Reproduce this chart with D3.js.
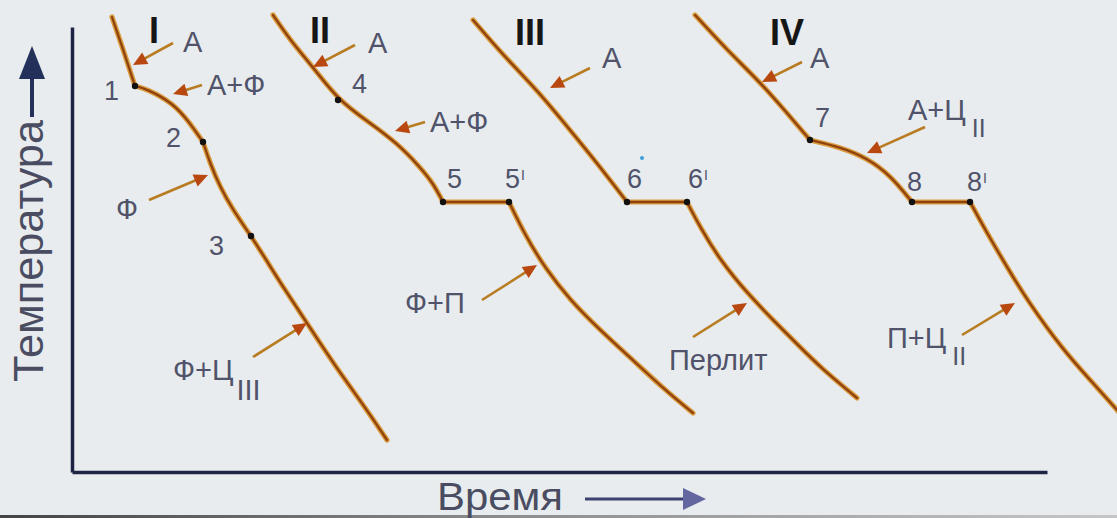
<!DOCTYPE html>
<html>
<head>
<meta charset="utf-8">
<script src="https://d3js.org/d3.v7.min.js"></script>
<style>
  body { margin: 0; background: #e8ecee; }
  svg { display: block; }
</style>
</head>
<body>
<script>
// cooling curves, time vs temperature (arbitrary units)
var curveI = [
   [[40,455],[52,420],[63,386]],
   [[63,386],[75,383],[101,369],[118,349],[131,330]],
   [[131,330],[138,309],[148,285],[161,262],[179,236],[193,214],[213,182],[235,149],[261,109],[295,62],[315,32]]
];
var curveII = [
   [[201,457],[218,432],[241,405],[266,372],[298,349],[325,329],[348,305],[361,289],[371,270]],
   [[371,270],[437,270]],
   [[437,270],[453,237],[473,204],[498,172],[528,142],[563,110],[593,82],[621,59]]
];
var curveIII = [
   [[401,452],[431,417],[465,382],[498,342],[525,309],[555,270]],
   [[555,270],[615,270]],
   [[615,270],[628,245],[648,212],[675,179],[703,150],[728,125],[748,105],[785,74]]
];
var curveIV = [
   [[623,457],[655,422],[688,390],[715,359],[738,332]],
   [[738,332],[768,325],[795,314],[818,297],[840,270]],
   [[840,270],[898,270]],
   [[898,270],[915,239],[935,205],[955,172],[991,122],[1021,89],[1045,62],[1068,36]]
];

// critical points
var points = [[63,386],[131,330],[179,236],[266,372],[371,270],[437,270],[555,270],[615,270],[738,332],[840,270],[898,270]];
var pointLabels = ['1','2','3','4','5',"5'",'6',"6'",'7','8',"8'"];
var pointLabelPos = [[32,372],[94,325],[137,217],[280,379],[375,284],[433,284],[555,284],[616,284],[743,345],[835,281],[895,281]];

// curve numbers
var romans = ['I','II','III','IV'];
var romanPos = [[77,429],[238,429],[443,427],[698,427]];

// phase labels + arrows
var phaseText = ['А','А+Ф','Ф','Ф+Ц','А','А+Ф','Ф+П','А','Перлит','А','А+Ц','П+Ц'];
var phaseSub = ['','','','III','','','','','','','II','II'];
var phasePos = [[111,420],[135,377],[44,253],[101,92],[296,419],[358,340],[333,159],[530,404],[597,102],[738,404],[836,352],[815,124]];
var arrowFrom = [[101,429],[130,387],[77,272],[181,115],[283,427],[353,350],[410,172],[518,404],[621,135],[730,410],[853,345],[890,137]];
var arrowTo = [[61,407],[101,378],[136,297],[235,149],[241,405],[323,341],[465,207],[478,384],[675,169],[690,390],[795,319],[943,169]];

var width = 1117, height = 518;

var x = d3.scaleLinear().domain([0, 975]).range([72, 1047]);
var y = d3.scaleLinear().domain([0, 445]).range([472, 27]);

var svg = d3.select('body').append('svg')
   .attr('width', width)
   .attr('height', height);

svg.append('rect')
   .attr('width', width).attr('height', height)
   .attr('fill', '#e8ecee');

// dark edge at the very bottom
var grad = svg.append('defs').append('linearGradient').attr('id', 'edge');
grad.append('stop').attr('offset', '0%').attr('stop-color', '#444');
grad.append('stop').attr('offset', '45%').attr('stop-color', '#8c8c8c');
grad.append('stop').attr('offset', '100%').attr('stop-color', '#c4c6c8');
svg.append('rect')
   .attr('x', 0).attr('y', 515).attr('width', width).attr('height', 3)
   .attr('fill', 'url(#edge)');

// axes, no ticks
svg.append('g')
   .attr('transform', 'translate(72,0)')
   .call(d3.axisLeft(y).ticks(0).tickSizeOuter(0))
   .select('.domain').attr('stroke', '#1e2444').attr('stroke-width', 3.5);
svg.append('g')
   .attr('transform', 'translate(0,472)')
   .call(d3.axisBottom(x).ticks(0).tickSizeOuter(0))
   .select('.domain').attr('stroke', '#1e2444').attr('stroke-width', 3.5);

// axis titles
svg.append('text')
   .attr('transform', 'translate(43,382) rotate(-90)')
   .attr('font-family', 'Liberation Sans, Arial, sans-serif')
   .attr('font-size', 42)
   .attr('textLength', 262)
   .attr('lengthAdjust', 'spacingAndGlyphs')
   .attr('fill', '#4a4d62')
   .text('Температура');
svg.append('line')
   .attr('x1', 32).attr('y1', 117).attr('x2', 32).attr('y2', 74)
   .attr('stroke', '#22305a').attr('stroke-width', 4);
svg.append('path')
   .attr('d', 'M32,46 L45,79 L19,79 Z')
   .attr('fill', '#22305a');

svg.append('text')
   .attr('x', 437).attr('y', 510)
   .attr('font-family', 'Liberation Sans, Arial, sans-serif')
   .attr('font-size', 38)
   .attr('textLength', 126)
   .attr('lengthAdjust', 'spacingAndGlyphs')
   .attr('fill', '#4a4d62')
   .text('Время');
svg.append('line')
   .attr('x1', 585).attr('y1', 499).attr('x2', 688).attr('y2', 499)
   .attr('stroke', '#3d4170').attr('stroke-width', 3);
svg.append('path')
   .attr('d', 'M706,499 L683,488 L683,510 Z')
   .attr('fill', '#6466a0');

// curves
var line = d3.line()
   .x(function(d) { return x(d[0]); })
   .y(function(d) { return y(d[1]); })
   .curve(d3.curveBasis);

var segments = [].concat(curveI, curveII, curveIII, curveIV);

svg.append('g').selectAll('path')
   .data(segments)
   .enter().append('path')
   .attr('d', line)
   .attr('fill', 'none')
   .attr('stroke', '#dc9c40')
   .attr('stroke-width', 5.2)
   .attr('stroke-linecap', 'round');
svg.append('g').selectAll('path')
   .data(segments)
   .enter().append('path')
   .attr('d', line)
   .attr('fill', 'none')
   .attr('stroke', '#8e420e')
   .attr('stroke-width', 2.3)
   .attr('stroke-linecap', 'round');

svg.append('g').selectAll('circle')
   .data(points)
   .enter().append('circle')
   .attr('cx', function(d) { return x(d[0]); })
   .attr('cy', function(d) { return y(d[1]); })
   .attr('r', 3.2)
   .attr('fill', '#111');

// little blue speck above 6
svg.append('circle')
   .attr('cx', 642).attr('cy', 158).attr('r', 2)
   .attr('fill', '#3aa0d8');

// arrows
var arrows = svg.append('g');
arrowFrom.forEach(function(a, i) {
   var b = arrowTo[i];
   var x1 = x(a[0]), y1 = y(a[1]), x2 = x(b[0]), y2 = y(b[1]);
   var ang = Math.atan2(y2 - y1, x2 - x1);
   var len = 14, half = 6.5;
   var bx = x2 - len * Math.cos(ang), by = y2 - len * Math.sin(ang);
   arrows.append('line')
      .attr('x1', x1).attr('y1', y1).attr('x2', bx + 2 * Math.cos(ang)).attr('y2', by + 2 * Math.sin(ang))
      .attr('stroke', '#b87c22').attr('stroke-width', 2.6);
   arrows.append('path')
      .attr('d', 'M' + x2 + ',' + y2 +
         ' L' + (bx + half * Math.sin(ang)) + ',' + (by - half * Math.cos(ang)) +
         ' L' + (bx - half * Math.sin(ang)) + ',' + (by + half * Math.cos(ang)) + ' Z')
      .attr('fill', '#b8480f');
});

var font = 'Liberation Sans, Arial, sans-serif';

// point numbers
var nums = svg.append('g')
   .attr('font-family', font).attr('font-size', 27).attr('fill', '#50536a');
pointLabels.forEach(function(t, i) {
   var el = nums.append('text')
      .attr('x', x(pointLabelPos[i][0]))
      .attr('y', y(pointLabelPos[i][1]));
   if (t.indexOf("'") > 0) {
      el.append('tspan').text(t[0]);
      el.append('tspan').attr('dx', 1).attr('dy', -8).attr('font-size', 14).text('I');
   } else {
      el.text(t);
   }
});

// roman numerals
svg.append('g').selectAll('text')
   .data(romans)
   .enter().append('text')
   .attr('x', function(d, i) { return x(romanPos[i][0]); })
   .attr('y', function(d, i) { return y(romanPos[i][1]); })
   .attr('font-family', font)
   .attr('font-weight', 'bold')
   .attr('font-size', 36)
   .attr('fill', '#161616')
   .text(function(d) { return d; });

// phase labels
var phases = svg.append('g')
   .attr('font-family', font).attr('font-size', 29).attr('fill', '#50536a');
phaseText.forEach(function(t, i) {
   var el = phases.append('text')
      .attr('x', x(phasePos[i][0]))
      .attr('y', y(phasePos[i][1]));
   el.append('tspan').text(t);
   if (phaseSub[i]) {
      var big = phaseSub[i] === 'III';
      el.append('tspan')
         .attr('dx', big ? 3 : 6)
         .attr('dy', big ? 20 : 17)
         .attr('font-size', big ? 29 : 25)
         .text(phaseSub[i]);
   }
});
</script>
</body>
</html>
